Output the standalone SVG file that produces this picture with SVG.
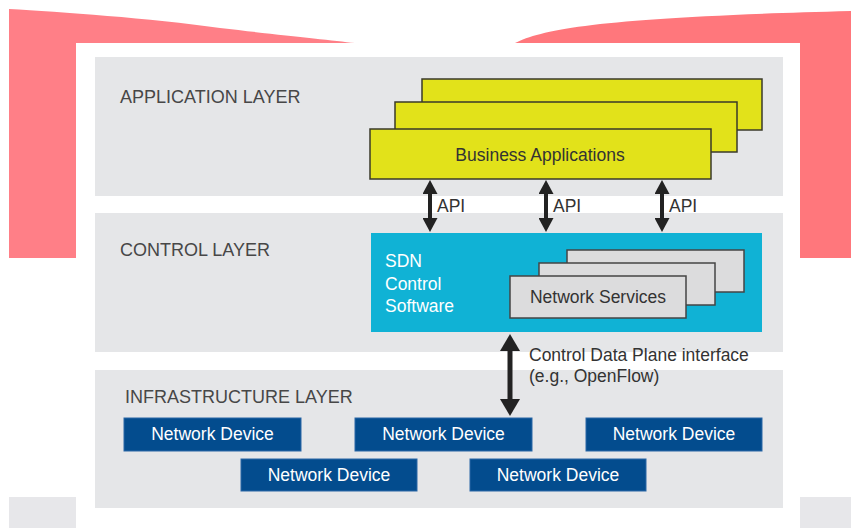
<svg xmlns="http://www.w3.org/2000/svg" width="851" height="528" viewBox="0 0 851 528">
  <style>
    .lbl { font-family: "Liberation Sans", Arial, sans-serif; font-size: 18px; fill: #474747; }
    .dark { font-family: "Liberation Sans", Arial, sans-serif; font-size: 17.5px; fill: #333333; }
    .white { font-family: "Liberation Sans", Arial, sans-serif; font-size: 17.5px; fill: #ffffff; }
    .layer { fill: #e5e6e8; }
    .app { fill: #e2e21a; stroke: #3a3a2a; stroke-width: 1.5; }
    .svc { fill: #dcdcdd; stroke: #444444; stroke-width: 1.5; }
    .dev { fill: #034c8e; stroke: #2a66a6; stroke-width: 1; }
    .shaft { stroke: #222222; fill: none; }
  </style>
  <defs>
    <marker id="headS" markerUnits="userSpaceOnUse" markerWidth="15" markerHeight="15" refX="1" refY="7.5" orient="auto-start-reverse">
      <path d="M0,0 L14,7.5 L0,15 Z" fill="#222222"/>
    </marker>
    <marker id="headL" markerUnits="userSpaceOnUse" markerWidth="18" markerHeight="20" refX="1" refY="10" orient="auto-start-reverse">
      <path d="M0,0 L17,10 L0,20 Z" fill="#222222"/>
    </marker>
  </defs>

  <!-- backdrop -->
  <rect x="0" y="0" width="851" height="528" fill="#ffffff"/>
  <path d="M9,9 C60,12 150,18 220,28 C280,35 330,40 355,43 L76,43 L76,258 L9,258 Z" fill="#ff7f87"/>
  <path d="M515,43 C545,28 610,17 851,11 L851,258 L800,258 L800,43 Z" fill="#ff777c"/>
  <rect x="76" y="43" width="724" height="485" fill="#ffffff"/>
  <rect x="9" y="497" width="67" height="31" fill="#e7e7ea"/>
  <rect x="800" y="497" width="51" height="31" fill="#e7e7ea"/>

  <!-- layer bands -->
  <g id="application-layer">
    <rect class="layer" x="95" y="57" width="688" height="139"/>
    <text class="lbl" x="120" y="103">APPLICATION LAYER</text>
  </g>
  <g id="control-layer">
    <rect class="layer" x="95" y="213" width="688" height="139"/>
    <text class="lbl" x="120" y="256">CONTROL LAYER</text>
  </g>
  <g id="infrastructure-layer">
    <rect class="layer" x="95" y="370" width="688" height="138"/>
    <text class="lbl" x="125" y="403">INFRASTRUCTURE LAYER</text>
  </g>

  <!-- business applications stack -->
  <g id="business-applications">
    <rect class="app" x="422" y="79" width="340" height="51"/>
    <rect class="app" x="395" y="102" width="342" height="50"/>
    <rect class="app" x="370" y="129" width="341" height="50"/>
    <text class="dark" x="540" y="161" text-anchor="middle">Business Applications</text>
  </g>

  <!-- SDN controller -->
  <g id="sdn-control-software">
    <rect x="371" y="233" width="391" height="99" fill="#10b2d5"/>
    <text class="white" x="385" y="267">SDN</text>
    <text class="white" x="385" y="290">Control</text>
    <text class="white" x="385" y="312">Software</text>
  </g>
  <g id="network-services">
    <rect class="svc" x="567" y="250" width="177" height="42"/>
    <rect class="svc" x="539" y="263" width="176" height="42"/>
    <rect class="svc" x="510" y="276" width="176" height="42"/>
    <text class="dark" x="598" y="303" text-anchor="middle">Network Services</text>
  </g>

  <!-- forwarding devices -->
  <g id="device-1">
    <rect class="dev" x="124" y="418" width="177" height="33"/>
    <text class="white" x="212.5" y="440" text-anchor="middle">Network Device</text>
  </g>
  <g id="device-2">
    <rect class="dev" x="355" y="418" width="177" height="33"/>
    <text class="white" x="443.5" y="440" text-anchor="middle">Network Device</text>
  </g>
  <g id="device-3">
    <rect class="dev" x="586" y="418" width="176" height="33"/>
    <text class="white" x="674" y="440" text-anchor="middle">Network Device</text>
  </g>
  <g id="device-4">
    <rect class="dev" x="241" y="459" width="176" height="32"/>
    <text class="white" x="329" y="481" text-anchor="middle">Network Device</text>
  </g>
  <g id="device-5">
    <rect class="dev" x="470" y="459" width="176" height="32"/>
    <text class="white" x="558" y="481" text-anchor="middle">Network Device</text>
  </g>

  <!-- connectors -->
  <g id="connectors">
    <line class="shaft" x1="430" y1="193" x2="430" y2="219" stroke-width="4" marker-start="url(#headS)" marker-end="url(#headS)"/>
    <line class="shaft" x1="546" y1="193" x2="546" y2="219" stroke-width="4" marker-start="url(#headS)" marker-end="url(#headS)"/>
    <line class="shaft" x1="662" y1="193" x2="662" y2="219" stroke-width="4" marker-start="url(#headS)" marker-end="url(#headS)"/>
    <text class="dark" x="437" y="212" font-size="15.5">API</text>
    <text class="dark" x="553" y="212" font-size="15.5">API</text>
    <text class="dark" x="669" y="212" font-size="15.5">API</text>

    <line class="shaft" x1="510" y1="350" x2="510" y2="400" stroke-width="5" marker-start="url(#headL)" marker-end="url(#headL)"/>
    <text class="dark" x="529" y="361">Control Data Plane interface</text>
    <text class="dark" x="529" y="382">(e.g., OpenFlow)</text>
  </g>
</svg>
